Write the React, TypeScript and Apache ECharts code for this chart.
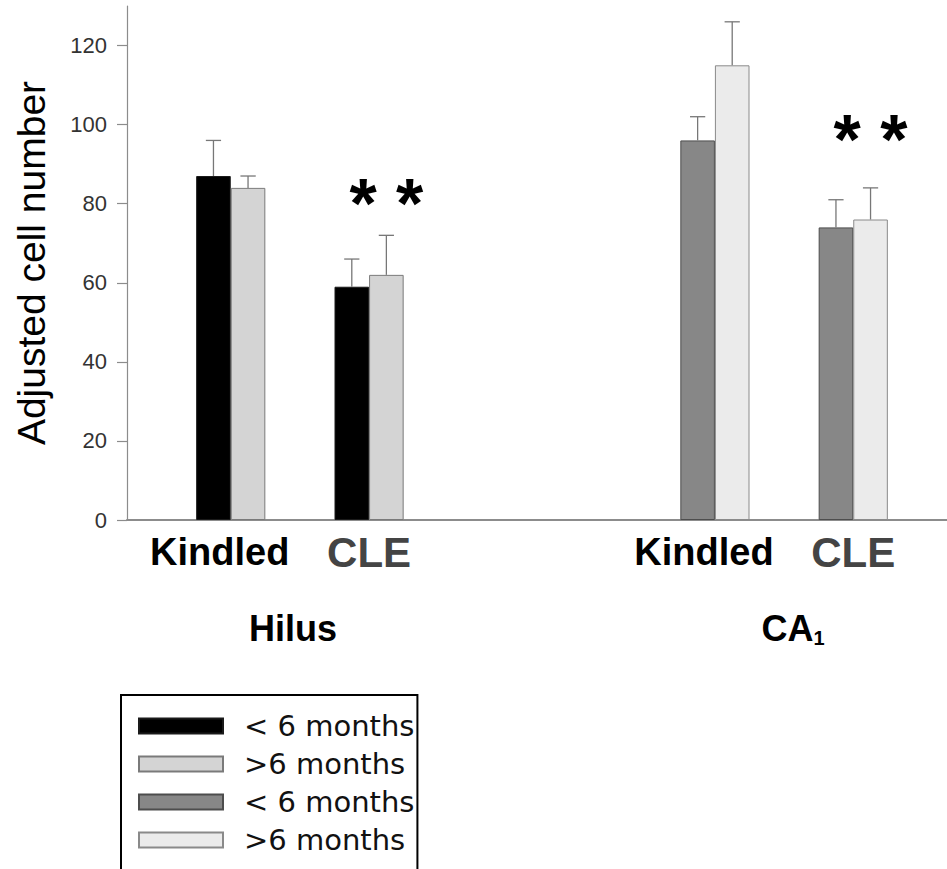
import React, { useEffect, useRef } from "react";
import * as echarts from "echarts";

// ---- data ----
const regions = ["Hilus", "CA1"];
const conditions = ["Kindled", "CLE"];
const groups = ["< 6 months", ">6 months"];

const hilusUnder6 = [87, 59];
const hilusOver6 = [84, 62];
const ca1Under6 = [96, 74];
const ca1Over6 = [115, 76];

const hilusUnder6Err = [9, 7];
const hilusOver6Err = [3, 10];
const ca1Under6Err = [6, 7];
const ca1Over6Err = [11, 8];

// significance marks ("* *") per region, over the CLE pair
const significantCondition = [false, true];
const sigMarkHeights = [80, 96];

const yTicks = [0, 20, 40, 60, 80, 100, 120];
const yMax = 130;

// ---- layout helpers (slots on a category axis) ----
const SLOT_COUNT = 12;
const slotOf = (r: number, c: number) => r * 7 + 1 + 2 * c;
const regionSlot = (r: number) => r * 7 + 2;
const slots = Array.from({ length: SLOT_COUNT }, (_, i) => "s" + i);

const FONT = "'Liberation Sans', Arial, Helvetica, sans-serif";

const seriesDefs = [
  { region: 0, group: 0, values: hilusUnder6, errs: hilusUnder6Err, color: "#000000", border: "#1a1a1a" },
  { region: 0, group: 1, values: hilusOver6, errs: hilusOver6Err, color: "#d4d4d4", border: "#7a7a7a" },
  { region: 1, group: 0, values: ca1Under6, errs: ca1Under6Err, color: "#878787", border: "#4d4d4d" },
  { region: 1, group: 1, values: ca1Over6, errs: ca1Over6Err, color: "#ebebeb", border: "#8a8a8a" },
];

const seriesName = (d: any) => `${regions[d.region]}|${groups[d.group]}`;

export default function App() {
  const ref = useRef<HTMLDivElement>(null);

  useEffect(() => {
    if (!ref.current) return;
    const chart = echarts.init(ref.current, undefined, { renderer: "svg" });

    const barSeries = seriesDefs.map((d) => {
      const data: any[] = slots.map(() => "-");
      d.values.forEach((v, c) => {
        data[slotOf(d.region, c)] = v;
      });
      return {
        name: seriesName(d),
        type: "bar",
        stack: "g" + d.group,
        barWidth: "50%",
        barGap: "0%",
        data,
        itemStyle: { color: d.color, borderColor: d.border, borderWidth: 1 },
        z: 2,
      };
    });

    const errData: any[] = [];
    seriesDefs.forEach((d) => {
      d.values.forEach((v, c) => {
        errData.push([slotOf(d.region, c), v, d.errs[c], d.group]);
      });
    });

    const sigData: any[] = [];
    regions.forEach((_, r) => {
      conditions.forEach((__, c) => {
        if (significantCondition[c]) sigData.push([slotOf(r, c), sigMarkHeights[r]]);
      });
    });

    const slotLabel: Record<number, string> = {};
    regions.forEach((_, r) => {
      conditions.forEach((cond, c) => {
        slotLabel[slotOf(r, c)] = c === 0 ? `{k|${cond}}` : `{c|${cond}}`;
      });
    });
    const regionLabel: Record<number, string> = {};
    regions.forEach((name, r) => {
      const m = name.match(/^([A-Za-z]+)(\d+)$/);
      regionLabel[regionSlot(r)] = m ? `{rs|${m[1]}}{s|${m[2]}}` : `{r|${name}}`;
    });

    chart.setOption({
      animation: false,
      backgroundColor: "#ffffff",
      grid: { left: 127, top: 6, bottom: 349, width: 830, containLabel: false },
      legend: {
        data: seriesDefs.map(seriesName),
        orient: "vertical",
        left: 121,
        top: 695,
        height: 150,
        padding: [16, 3, 22, 17],
        borderColor: "#000",
        borderWidth: 2,
        itemWidth: 84,
        itemHeight: 15,
        itemGap: 8,
        icon: "rect",
        selectedMode: false,
        formatter: (name: string) => name.split("|")[1],
        textStyle: {
          fontFamily: "'DejaVu Sans', sans-serif",
          fontSize: 29,
          color: "#111",
          lineHeight: 30,
          padding: [0, 0, 0, 16],
        },
      },
      xAxis: [
        {
          type: "category",
          data: slots,
          position: "bottom",
          axisLine: { show: true, lineStyle: { color: "#8c8c8c", width: 2 } },
          axisTick: { show: false },
          axisLabel: {
            interval: 0,
            margin: 12,
            formatter: (_v: string, i: number) => slotLabel[i] || "",
            rich: {
              k: { fontFamily: FONT, fontWeight: "bold", fontSize: 38, color: "#000", lineHeight: 40, padding: [0, 22, 0, 0] },
              c: { fontFamily: FONT, fontWeight: "bold", fontSize: 42, color: "#444", lineHeight: 40 },
            },
          },
        },
        {
          type: "category",
          data: slots,
          position: "bottom",
          offset: 0,
          axisLine: { show: false },
          axisTick: { show: false },
          axisLabel: {
            interval: 0,
            margin: 88,
            formatter: (_v: string, i: number) => regionLabel[i] || "",
            rich: {
              r: { fontFamily: FONT, fontWeight: "bold", fontSize: 36, color: "#000", lineHeight: 40, padding: [0, 14, 0, 0] },
              rs: { fontFamily: FONT, fontWeight: "bold", fontSize: 36, color: "#000", lineHeight: 40, padding: [0, 0, 0, 18] },
              s: { fontFamily: FONT, fontWeight: "bold", fontSize: 20, color: "#000", lineHeight: 20, verticalAlign: "bottom" },
            },
          },
        },
      ],
      yAxis: {
        type: "value",
        min: 0,
        max: yMax,
        interval: 20,
        name: "Adjusted cell number",
        nameLocation: "middle",
        nameRotate: 90,
        nameGap: 76,
        nameTextStyle: { fontFamily: FONT, fontSize: 39, color: "#000" },
        axisLine: { show: true, lineStyle: { color: "#8c8c8c", width: 1.2 } },
        axisTick: { show: true, length: 10, customValues: yTicks, lineStyle: { color: "#8c8c8c", width: 1.2 } },
        axisLabel: { customValues: yTicks, fontFamily: FONT, fontSize: 22, color: "#333", margin: 20 },
        splitLine: { show: false },
      },
      series: [
        ...barSeries,
        {
          name: "errors",
          type: "custom",
          xAxisIndex: 0,
          data: errData,
          encode: { x: 0, y: 1 },
          z: 3,
          renderItem: (_p: any, api: any) => {
            const slot = api.value(0);
            const v = api.value(1);
            const e = api.value(2);
            const g = api.value(3);
            const band = api.size([1, 0])[0];
            const x = api.coord([slot, 0])[0] + (g === 0 ? -1 : 1) * (band / 4);
            const yTop = api.coord([slot, v])[1];
            const yErr = api.coord([slot, v + e])[1];
            const cap = band * 0.11;
            const st = { stroke: "#777", lineWidth: 1.3 };
            return {
              type: "group",
              children: [
                { type: "line", shape: { x1: x, y1: yTop, x2: x, y2: yErr }, style: st },
                { type: "line", shape: { x1: x - cap, y1: yErr, x2: x + cap, y2: yErr }, style: st },
              ],
            };
          },
        },
        {
          name: "significance",
          type: "custom",
          xAxisIndex: 0,
          data: sigData,
          encode: { x: 0, y: 1 },
          z: 4,
          renderItem: (_p: any, api: any) => {
            const slot = api.value(0);
            const h = api.value(1);
            const band = api.size([1, 0])[0];
            const pt = api.coord([slot, h]);
            return {
              type: "text",
              x: pt[0] + band / 4,
              y: pt[1],
              style: {
                text: "* *",
                fontFamily: FONT,
                fontWeight: "bold",
                fontSize: 70,
                fill: "#000",
                align: "center",
                verticalAlign: "middle",
              },
            };
          },
        },
      ],
    });

    return () => chart.dispose();
  }, []);

  return (
    <div
      style={{ position: "absolute", left: 0, top: 0, width: 947, height: 869, overflow: "hidden", background: "#fff" }}
    >
      <div ref={ref} style={{ width: 965, height: 869 }} />
    </div>
  );
}
